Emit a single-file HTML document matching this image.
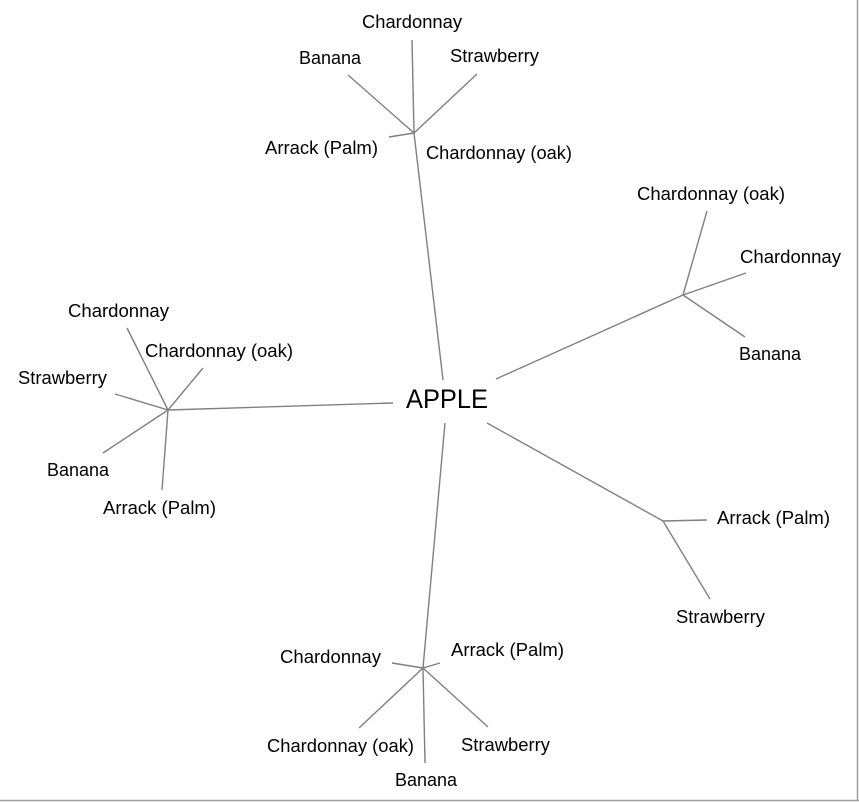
<!DOCTYPE html>
<html><head><style>
html,body{margin:0;padding:0;background:#fff;}
svg{display:block;}
text{font-family:"Liberation Sans",Arial,sans-serif;font-size:18px;fill:#000;}
</style></head><body>
<svg width="859" height="803" viewBox="0 0 859 803" xmlns="http://www.w3.org/2000/svg">
<rect x="0" y="0" width="859" height="803" fill="#fff"/>
<line x1="857.5" y1="0" x2="857.5" y2="801" stroke="#a0a0a0" stroke-width="1.5"/>
<line x1="0" y1="800.5" x2="859" y2="800.5" stroke="#a0a0a0" stroke-width="1.5"/>
<g stroke="#808080" stroke-width="1.4" fill="none">
<line x1="443" y1="380" x2="414" y2="133"/>
<line x1="414" y1="133" x2="412" y2="40"/>
<line x1="414" y1="133" x2="348" y2="75"/>
<line x1="414" y1="133" x2="477" y2="74"/>
<line x1="414" y1="133" x2="389" y2="137"/>
<line x1="393" y1="403" x2="168" y2="410"/>
<line x1="168" y1="410" x2="127" y2="328"/>
<line x1="168" y1="410" x2="203" y2="368"/>
<line x1="168" y1="410" x2="115" y2="394"/>
<line x1="168" y1="410" x2="103" y2="453"/>
<line x1="168" y1="410" x2="162" y2="490"/>
<line x1="445" y1="423" x2="423" y2="668"/>
<line x1="423" y1="668" x2="392" y2="663"/>
<line x1="423" y1="668" x2="440" y2="663"/>
<line x1="423" y1="668" x2="359" y2="728"/>
<line x1="423" y1="668" x2="488" y2="727"/>
<line x1="423" y1="668" x2="425" y2="763"/>
<line x1="496" y1="379" x2="683" y2="295"/>
<line x1="683" y1="295" x2="707" y2="211"/>
<line x1="683" y1="295" x2="746" y2="273"/>
<line x1="683" y1="295" x2="745" y2="337"/>
<line x1="487" y1="423" x2="663" y2="521"/>
<line x1="663" y1="521" x2="707" y2="520"/>
<line x1="663" y1="521" x2="710" y2="599"/>
</g>
<text x="406" y="408" style="font-size:27px" textLength="82" lengthAdjust="spacingAndGlyphs">APPLE</text>
<g lengthAdjust="spacingAndGlyphs">
<text x="362" y="28" textLength="100" lengthAdjust="spacingAndGlyphs">Chardonnay</text>
<text x="299" y="64" textLength="62" lengthAdjust="spacingAndGlyphs">Banana</text>
<text x="450" y="62" textLength="89" lengthAdjust="spacingAndGlyphs">Strawberry</text>
<text x="265" y="154" textLength="113" lengthAdjust="spacingAndGlyphs">Arrack (Palm)</text>
<text x="426" y="159" textLength="146" lengthAdjust="spacingAndGlyphs">Chardonnay (oak)</text>

<text x="637" y="200" textLength="148" lengthAdjust="spacingAndGlyphs">Chardonnay (oak)</text>
<text x="740" y="263" textLength="101" lengthAdjust="spacingAndGlyphs">Chardonnay</text>
<text x="739" y="360" textLength="62" lengthAdjust="spacingAndGlyphs">Banana</text>
<text x="717" y="524" textLength="113" lengthAdjust="spacingAndGlyphs">Arrack (Palm)</text>
<text x="676" y="623" textLength="89" lengthAdjust="spacingAndGlyphs">Strawberry</text>

<text x="68" y="317" textLength="101" lengthAdjust="spacingAndGlyphs">Chardonnay</text>
<text x="145" y="357" textLength="148" lengthAdjust="spacingAndGlyphs">Chardonnay (oak)</text>
<text x="18" y="384" textLength="89" lengthAdjust="spacingAndGlyphs">Strawberry</text>
<text x="47" y="476" textLength="62" lengthAdjust="spacingAndGlyphs">Banana</text>
<text x="103" y="514" textLength="113" lengthAdjust="spacingAndGlyphs">Arrack (Palm)</text>

<text x="280" y="663" textLength="101" lengthAdjust="spacingAndGlyphs">Chardonnay</text>
<text x="451" y="656" textLength="113" lengthAdjust="spacingAndGlyphs">Arrack (Palm)</text>
<text x="267" y="752" textLength="147" lengthAdjust="spacingAndGlyphs">Chardonnay (oak)</text>
<text x="461" y="751" textLength="89" lengthAdjust="spacingAndGlyphs">Strawberry</text>
<text x="395" y="786" textLength="62" lengthAdjust="spacingAndGlyphs">Banana</text>
</g>
</svg>
</body></html>
